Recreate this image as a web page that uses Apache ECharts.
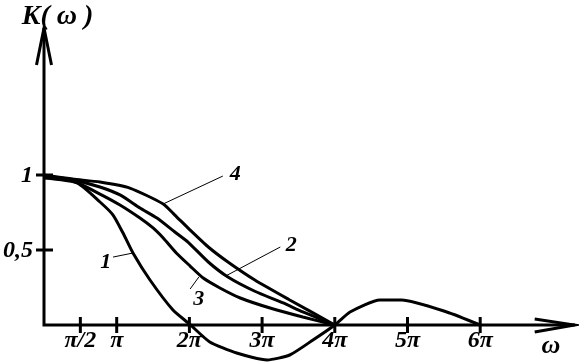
<!DOCTYPE html>
<html><head><meta charset="utf-8">
<script src="https://cdn.jsdelivr.net/npm/echarts@6/dist/echarts.min.js"></script>
<style>html,body{margin:0;padding:0;background:#fff}#c{width:579px;height:364px}</style>
</head><body><div id="c"></div>
<script>
// axis extents (x in units of π)
const X_MAX = 7.3, Y_MIN = -0.26, Y_MAX = 1.98;
const ticksX = [0.5, 1, 2, 3, 4, 5, 6];
const tickLabelsX = ['π/2', 'π', '2π', '3π', '4π', '5π', '6π'];
const ticksY = [0.5, 1];
const tickLabelsY = ['0,5', '1'];

// curve 1
const w1 = [0, 0.454, 0.77, 0.95, 1.087, 1.224, 1.458, 1.774, 2.0, 2.28, 2.65, 3.07, 3.38, 3.70, 4.0, 4.21, 4.62, 4.92, 5.54, 6.0];
const k1 = [0.98, 0.947, 0.82, 0.733, 0.613, 0.48, 0.30, 0.10, 0.007, -0.113, -0.187, -0.233, -0.20, -0.10, 0, 0.087, 0.167, 0.167, 0.087, 0];
// curve 2
const w2 = [0, 0.40, 0.77, 1.045, 1.32, 1.554, 1.80, 1.98, 2.26, 2.53, 2.90, 3.29, 3.56, 4.0];
const k2 = [0.993, 0.967, 0.92, 0.867, 0.78, 0.713, 0.62, 0.553, 0.42, 0.32, 0.225, 0.147, 0.087, 0];
// curve 3
const w3 = [0, 0.40, 0.77, 1.045, 1.32, 1.50, 1.64, 1.82, 2.01, 2.19, 2.42, 2.70, 3.11, 3.56, 4.0];
const k3 = [0.987, 0.96, 0.873, 0.80, 0.713, 0.647, 0.58, 0.48, 0.393, 0.313, 0.247, 0.18, 0.113, 0.053, 0];
// curve 4
const w4 = [0, 0.40, 0.77, 1.18, 1.64, 1.80, 2.01, 2.26, 2.53, 2.90, 3.38, 4.0];
const k4 = [1.0, 0.973, 0.953, 0.913, 0.807, 0.733, 0.633, 0.52, 0.42, 0.30, 0.167, 0];

// curve labels with leader lines (data coordinates)
const curveNames = ['1', '2', '3', '4'];
const labelAt = [[0.85, 0.42], [3.40, 0.533], [2.13, 0.173], [2.63, 1.007]];
const leaderFrom = [[0.95, 0.453], [3.25, 0.52], [2.01, 0.24], [2.46, 0.993]];
const leaderTo = [[1.224, 0.48], [2.50, 0.327], [2.13, 0.32], [1.64, 0.807]];

// axis names
const axisNames = ['K( ω )', 'ω'];
const axisNameAt = [[0.186, 2.057], [6.974, -0.14]];

const FONT = '"Liberation Serif", "Times New Roman", serif';
const zip = (a, b) => a.map((v, i) => [v, b[i]]);

function renderFrame(params, api) {
  const o = api.coord([0, 0]);
  const top = api.coord([0, Y_MAX]);
  const right = api.coord([X_MAX, 0]);
  const st = {stroke: '#000', lineWidth: 3, fill: null};
  const ch = [];
  ch.push({type: 'polyline', shape: {points: [top, o, right]}, style: st});
  ch.push({type: 'polyline', shape: {points: [[top[0] - 7.5, top[1] + 37], top, [top[0] + 7.5, top[1] + 37]]}, style: st});
  ch.push({type: 'polyline', shape: {points: [[right[0] - 40, right[1] - 6], right, [right[0] - 40, right[1] + 7]]}, style: st});
  ticksX.forEach((t, i) => {
    const p = api.coord([t, 0]);
    ch.push({type: 'line', shape: {x1: p[0], y1: p[1] - 8, x2: p[0], y2: p[1] + 8}, style: st});
    ch.push({type: 'text', x: p[0], y: p[1] + 16, style: {text: tickLabelsX[i], fill: '#000', font: 'italic bold 24px ' + FONT, align: 'center', verticalAlign: 'middle'}});
  });
  ticksY.forEach((t, i) => {
    const p = api.coord([0, t]);
    ch.push({type: 'line', shape: {x1: p[0] - 8, y1: p[1], x2: p[0] + 9, y2: p[1]}, style: st});
    ch.push({type: 'text', x: p[0] - 11, y: p[1] + 1, style: {text: tickLabelsY[i], fill: '#000', font: 'italic bold 24px ' + FONT, align: 'right', verticalAlign: 'middle'}});
  });
  axisNames.forEach((n, i) => {
    const p = api.coord(axisNameAt[i]);
    ch.push({type: 'text', x: p[0], y: p[1], style: {text: n, fill: '#000', font: 'italic bold ' + (i === 0 ? 28 : 26) + 'px ' + FONT, align: 'center', verticalAlign: 'middle'}});
  });
  return {type: 'group', children: ch};
}

function renderNotes(params, api) {
  const i = api.value(0);
  const a = api.coord(leaderFrom[i]);
  const b = api.coord(leaderTo[i]);
  const t = api.coord(labelAt[i]);
  return {type: 'group', children: [
    {type: 'line', shape: {x1: a[0], y1: a[1], x2: b[0], y2: b[1]}, style: {stroke: '#000', lineWidth: 1}},
    {type: 'text', x: t[0], y: t[1], style: {text: curveNames[i], fill: '#000', font: 'italic bold 22px ' + FONT, align: 'center', verticalAlign: 'middle'}}
  ]};
}

const curveStyle = {color: '#000', width: 3};
const mk = (w, k) => ({type: 'line', data: zip(w, k), showSymbol: false, smooth: 0.2, lineStyle: curveStyle, itemStyle: {color: '#000'}, silent: true, animation: false, clip: false});

const chart = echarts.init(document.getElementById('c'), null, {renderer: 'canvas'});
chart.setOption({
  animation: false,
  backgroundColor: '#fff',
  grid: {left: 44, right: 4.3, top: 28, bottom: 0},
  xAxis: {type: 'value', min: 0, max: X_MAX, show: false},
  yAxis: {type: 'value', min: Y_MIN, max: Y_MAX, show: false},
  series: [
    mk(w1, k1), mk(w2, k2), mk(w3, k3), mk(w4, k4),
    {type: 'custom', renderItem: renderNotes, data: curveNames.map((n, i) => [i]), clip: false, silent: true, z: 3},
    {type: 'custom', renderItem: renderFrame, data: [[0]], clip: false, silent: true, z: 4}
  ]
});
</script>
</body></html>
